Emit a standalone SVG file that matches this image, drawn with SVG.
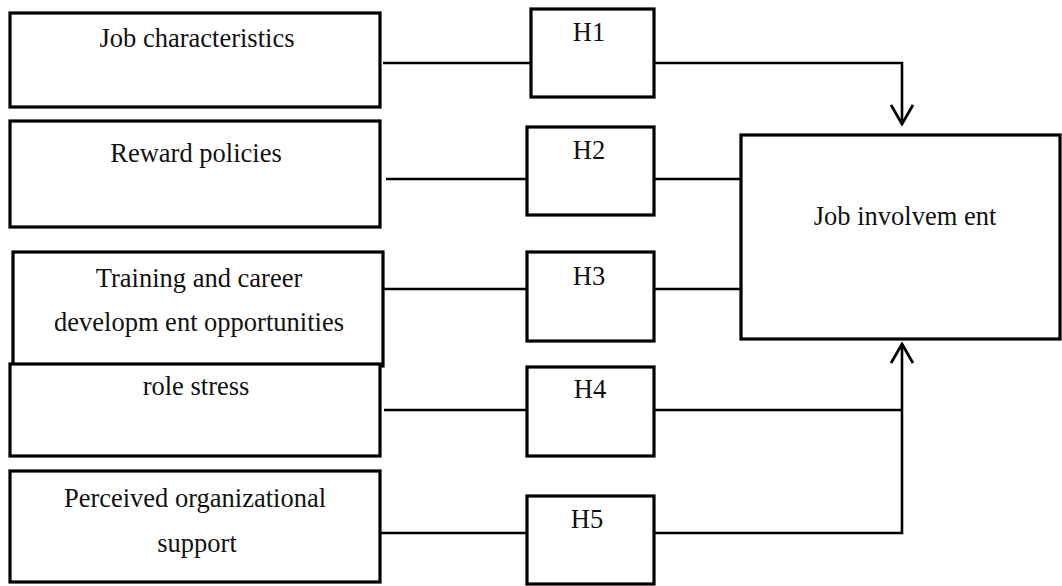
<svg xmlns="http://www.w3.org/2000/svg" width="1062" height="586" viewBox="0 0 1062 586">
<style>
.box{fill:#fff;stroke:#000;stroke-width:3.2}
.ln{fill:none;stroke:#000;stroke-width:2.6}
.t{font-family:"Liberation Serif","Times New Roman",serif;font-size:26.5px;fill:#111;text-anchor:middle}
</style>
<defs>
<marker id="arr" viewBox="0 0 22 24" refX="20" refY="12" markerWidth="22" markerHeight="24" markerUnits="userSpaceOnUse" orient="auto">
<path d="M1,1 L20,12 L1,23" fill="none" stroke="#000" stroke-width="2.8"/>
</marker>
</defs>
<rect width="1062" height="586" fill="#fff"/>
<g id="connectors">
<line class="ln" x1="383" y1="63" x2="531" y2="63"/>
<path class="ln" d="M654,63 H902 V124" marker-end="url(#arr)"/>
<line class="ln" x1="386" y1="179" x2="527" y2="179"/>
<line class="ln" x1="654" y1="179" x2="741" y2="179"/>
<line class="ln" x1="384" y1="289" x2="527" y2="289"/>
<line class="ln" x1="654" y1="289" x2="741" y2="289"/>
<line class="ln" x1="384" y1="410" x2="527" y2="410"/>
<line class="ln" x1="654" y1="410" x2="902" y2="410"/>
<line class="ln" x1="380" y1="533" x2="527" y2="533"/>
<path class="ln" d="M654,533 H902 V344" marker-end="url(#arr)"/>
</g>
<g id="job-characteristics">
<rect class="box" x="10" y="13" width="370" height="94"/>
<text class="t" x="197" y="47">Job characteristics</text>
</g>
<g id="reward-policies">
<rect class="box" x="10" y="121" width="370" height="106"/>
<text class="t" x="196" y="162">Reward policies</text>
</g>
<g id="training">
<rect class="box" x="13" y="252" width="370" height="114"/>
<text class="t" x="199" y="287">Training and career</text>
<text class="t" x="199" y="331">developm ent opportunities</text>
</g>
<g id="role-stress">
<rect class="box" x="10" y="364" width="370" height="92"/>
<text class="t" x="196" y="395">role stress</text>
</g>
<g id="perceived-support">
<rect class="box" x="10" y="471" width="370" height="111"/>
<text class="t" x="195" y="507">Perceived organizational</text>
<text class="t" x="197" y="552">support</text>
</g>
<g id="h1">
<rect class="box" x="531" y="9" width="123" height="88"/>
<text class="t" x="589" y="41">H1</text>
</g>
<g id="h2">
<rect class="box" x="527" y="127" width="127" height="88"/>
<text class="t" x="589" y="159">H2</text>
</g>
<g id="h3">
<rect class="box" x="527" y="252" width="127" height="89"/>
<text class="t" x="589" y="285">H3</text>
</g>
<g id="h4">
<rect class="box" x="527" y="367" width="127" height="89"/>
<text class="t" x="590" y="398">H4</text>
</g>
<g id="h5">
<rect class="box" x="527" y="496" width="127" height="88"/>
<text class="t" x="587" y="528">H5</text>
</g>
<g id="job-involvement">
<rect class="box" x="741" y="135" width="319" height="204"/>
<text class="t" x="905" y="225">Job involvem ent</text>
</g>
</svg>
